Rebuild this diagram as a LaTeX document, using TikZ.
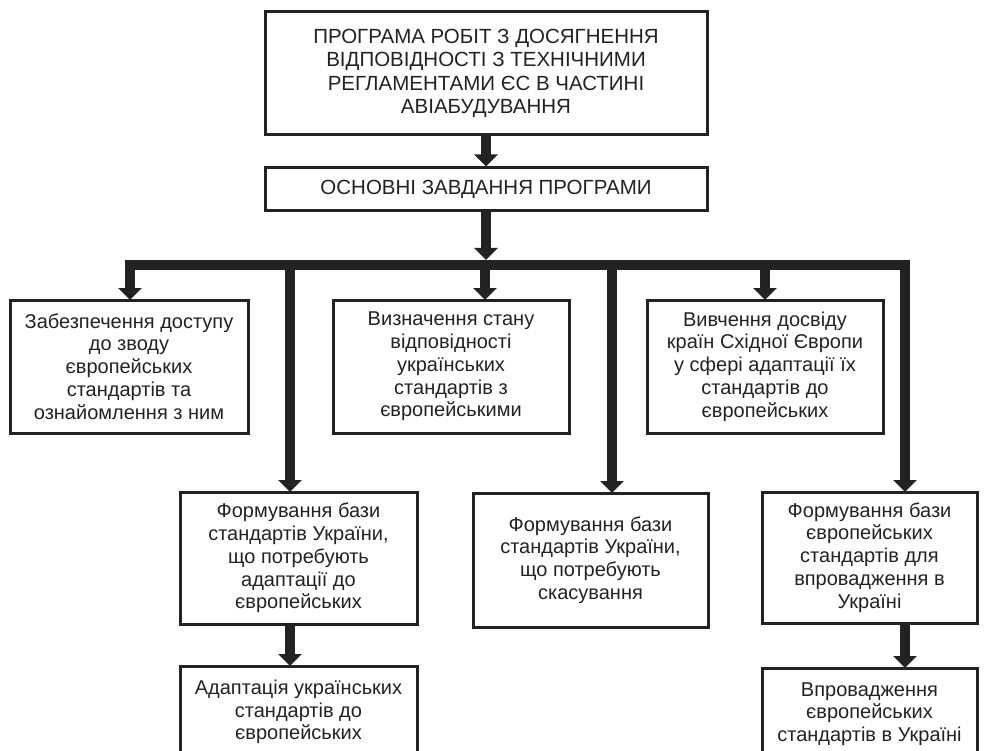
\documentclass[tikz,border=0pt]{standalone}
\usepackage{fontspec}
\setmainfont{Liberation Sans}
\usetikzlibrary{arrows.meta}
\definecolor{ink}{HTML}{222222}
\tikzset{
  box/.style={draw=ink, line width=3pt, rectangle, align=center, text=ink,
    font=\fontsize{20}{22.8}\selectfont, inner sep=0pt},
  fat/.style={draw=ink, line width=10pt, -{Triangle[width=23pt,length=12pt]}},
}
\begin{document}
\begin{tikzpicture}[x=1pt,y=-1pt]
\useasboundingbox (0,0) rectangle (987,751);
\node[box, minimum width=442pt, minimum height=123pt, font=\fontsize{20.5}{23.3}\selectfont] (top) at (486,73.5)
  {ПРОГРАМА РОБІТ З ДОСЯГНЕННЯ\\ВІДПОВІДНОСТІ З ТЕХНІЧНИМИ\\РЕГЛАМЕНТАМИ ЄС В ЧАСТИНІ\\АВІАБУДУВАННЯ};
\node[box, minimum width=442pt, minimum height=43pt, font=\fontsize{20.5}{23.3}\selectfont] (main) at (486,189.5)
  {ОСНОВНІ ЗАВДАННЯ ПРОГРАМИ};
\node[box, minimum width=238pt, minimum height=133pt] (b1) at (129,366.5)
  {Забезпечення доступу\\до зводу\\європейських\\стандартів та\\ознайомлення з ним};
\node[box, minimum width=236pt, minimum height=133pt] (b2) at (451,366.5)
  {Визначення стану\\відповідності\\українських\\стандартів з\\європейськими};
\node[box, minimum width=236pt, minimum height=133pt] (b3) at (765,366.5)
  {Вивчення досвіду\\країн Східної Європи\\у сфері адаптації їх\\стандартів до\\європейських};
\node[box, minimum width=237pt, minimum height=132pt] (f1) at (298.5,558)
  {Формування бази\\стандартів України,\\що потребують\\адаптації до\\європейських};
\node[box, minimum width=235pt, minimum height=134pt] (f2) at (590.5,560)
  {Формування бази\\стандартів України,\\що потребують\\скасування};
\node[box, minimum width=215pt, minimum height=131pt] (f3) at (869.5,557.5)
  {Формування бази\\європейських\\стандартів для\\впровадження в\\Україні};
\node[box, minimum width=237pt, minimum height=92pt] (a1) at (298.5,712)
  {Адаптація українських\\стандартів до\\європейських};
\node[box, minimum width=215pt, minimum height=92pt] (a2) at (869.5,714)
  {Впровадження\\європейських\\стандартів в Україні};

\coordinate (busL) at (130,265);
\coordinate (busR) at (905,265);
\draw[draw=ink, line width=10pt, line cap=rect] (busL) -- (busR);

\draw[fat] (top.south) -- (main.north);
\draw[fat] (main.south) -- (486,260);
\draw[fat] (130,265) -- (130,300);
\draw[fat] (290,265) -- (290,492);
\draw[fat] (485,265) -- (485,300);
\draw[fat] (612,265) -- (612,493);
\draw[fat] (765,265) -- (765,300);
\draw[fat] (905,265) -- (905,492);
\draw[fat] (290,624) -- (290,666);
\draw[fat] (905,623) -- (905,668);
\end{tikzpicture}
\end{document}
